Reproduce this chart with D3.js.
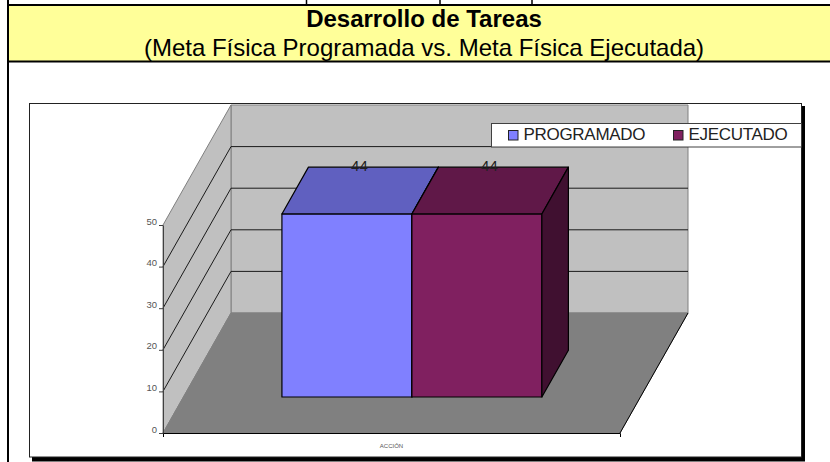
<!DOCTYPE html>
<html>
<head>
<meta charset="utf-8">
<script src="https://cdn.jsdelivr.net/npm/d3@7"></script>
<style>
  html, body { margin: 0; padding: 0; background: #fff; }
  svg { display: block; font-family: "Liberation Sans", Arial, sans-serif; }
</style>
</head>
<body>
<div id="chart"></div>
<script>
const categories = ['ACCIÓN'];
const seriesNames = ['PROGRAMADO', 'EJECUTADO'];
const programado = [44];
const ejecutado = [44];
const yTicks = [0, 10, 20, 30, 40, 50];
const titleText = 'Desarrollo de Tareas';
const subtitleText = '(Meta Física Programada vs. Meta Física Ejecutada)';

const svg = d3.select('#chart').append('svg').attr('width', 830).attr('height', 462);

// sheet cells around the chart
svg.append('rect').attr('x', 8).attr('y', 5).attr('width', 822).attr('height', 56).attr('fill', '#ffff99');
const line = (x1, y1, x2, y2, w) => svg.append('line')
  .attr('x1', x1).attr('y1', y1).attr('x2', x2).attr('y2', y2)
  .attr('stroke', '#000').attr('stroke-width', w);
line(8, 5, 830, 5, 2);
line(8, 61.5, 830, 61.5, 2);
line(8, 0, 8, 462, 2);
[306.5, 440, 532].forEach(x => line(x, 0, x, 5, 1.5));

svg.append('text').attr('x', 424).attr('y', 27).attr('text-anchor', 'middle')
  .attr('font-size', 24).attr('font-weight', 'bold').text(titleText);
svg.append('text').attr('x', 424).attr('y', 56).attr('text-anchor', 'middle')
  .attr('font-size', 24).text(subtitleText);

// chart frame with its drop shadow
svg.append('rect').attr('x', 32).attr('y', 106).attr('width', 773).attr('height', 355.5).attr('fill', '#000');
svg.append('rect').attr('x', 29.5).attr('y', 103.5).attr('width', 772).attr('height', 353.5)
  .attr('fill', '#fff').attr('stroke', '#222').attr('stroke-width', 1);

// plot box
const x0 = 163, x1 = 620, yBase = 433, yTop = 225;
const depthX = 68, depthY = -120;

const y = d3.scaleLinear().domain([0, 50]).range([yBase, yTop]);
const x = d3.scaleBand().domain(categories).range([x0, x1]).paddingOuter(0.379).paddingInner(0);
const xSeries = d3.scaleBand().domain(seriesNames).range([x(categories[0]), x(categories[0]) + x.bandwidth()]);
const z = d3.scaleLinear().domain([0, 1]).range([0, 1]);

// px,py for a point given in data space: px along x, v up, d into the depth
const project = (px, v, d) => [px + z(d) * depthX, y(v) + z(d) * depthY];
const poly = (pts, fill, stroke, w) => svg.append('polygon')
  .attr('points', pts.map(p => p.join(',')).join(' '))
  .attr('fill', fill).attr('stroke', stroke).attr('stroke-width', w).attr('stroke-linejoin', 'round');

const yMax = yTicks[yTicks.length - 1];
// back wall, side wall, floor
poly([project(x0, 0, 1), project(x1, 0, 1), project(x1, yMax, 1), project(x0, yMax, 1)], '#c0c0c0', '#808080', 1);
poly([project(x0, 0, 0), project(x0, 0, 1), project(x0, yMax, 1), project(x0, yMax, 0)], '#c0c0c0', '#808080', 1);
poly([project(x0, 0, 0), project(x1, 0, 0), project(x1, 0, 1), project(x0, 0, 1)], '#808080', '#808080', 1);

// gridlines on side and back wall
yTicks.filter(t => t > 0 && t < yMax).forEach(t => {
  const a = project(x0, t, 0), b = project(x0, t, 1), c = project(x1, t, 1);
  svg.append('polyline').attr('points', [a, b, c].map(p => p.join(',')).join(' '))
    .attr('fill', 'none').attr('stroke', '#1a1a1a').attr('stroke-width', 1);
});

// floor right edge
const fr0 = project(x1, 0, 0), fr1 = project(x1, 0, 1);
line(fr0[0], fr0[1], fr1[0], fr1[1], 1);

// bars
const zFront = 0.3, zBack = 0.69;
const rows = [
  { name: seriesNames[0], value: programado[0], front: '#8080ff', topc: '#6060c0', side: '#404080' },
  { name: seriesNames[1], value: ejecutado[0], front: '#802060', topc: '#601848', side: '#401030' }
];
rows.forEach(r => {
  const l = xSeries(r.name), h = l + xSeries.bandwidth();
  poly([project(l, 0, zFront), project(h, 0, zFront), project(h, r.value, zFront), project(l, r.value, zFront)], r.front, '#000', 1.2);
  poly([project(l, r.value, zFront), project(h, r.value, zFront), project(h, r.value, zBack), project(l, r.value, zBack)], r.topc, '#000', 1.2);
  poly([project(h, 0, zFront), project(h, 0, zBack), project(h, r.value, zBack), project(h, r.value, zFront)], r.side, '#000', 1.2);
  const lab = project(l + xSeries.bandwidth() / 2, r.value, zBack);
  svg.append('text').attr('x', lab[0] - 14).attr('y', lab[1] + 4).attr('text-anchor', 'middle')
    .attr('font-size', 15).attr('fill', '#222').text(r.value);
});

// axes
const yAxis = svg.append('g').attr('transform', `translate(${x0},0)`)
  .call(d3.axisLeft(y).tickValues(yTicks).tickSize(4).tickPadding(2).tickSizeOuter(0));
yAxis.selectAll('path, line').attr('stroke', '#404040');
yAxis.selectAll('text').attr('font-size', 9.5).attr('fill', '#555').attr('font-family', '"Liberation Sans", Arial, sans-serif').attr('dy', '-0.1em');

const xAxis = svg.append('g').attr('transform', `translate(0,${yBase})`)
  .call(d3.axisBottom(x).tickSizeInner(0).tickSizeOuter(4).tickPadding(11));
xAxis.selectAll('path').attr('stroke', '#000');
xAxis.selectAll('text').attr('font-size', 6).attr('fill', '#555').attr('font-family', '"Liberation Sans", Arial, sans-serif');

// legend
svg.append('rect').attr('x', 491.5).attr('y', 123.5).attr('width', 310).attr('height', 23.5)
  .attr('fill', '#fff').attr('stroke', '#404040').attr('stroke-width', 1);
const legendX = d3.scaleOrdinal().domain(seriesNames).range([508.5, 673.5]);
rows.forEach(r => {
  svg.append('rect').attr('x', legendX(r.name)).attr('y', 130.5).attr('width', 9.5).attr('height', 9.5)
    .attr('fill', r.front).attr('stroke', '#222').attr('stroke-width', 1);
  svg.append('text').attr('x', legendX(r.name) + 15).attr('y', 140)
    .attr('font-size', 17).attr('letter-spacing', -0.3).attr('fill', '#222').text(r.name);
});
</script>
</body>
</html>
